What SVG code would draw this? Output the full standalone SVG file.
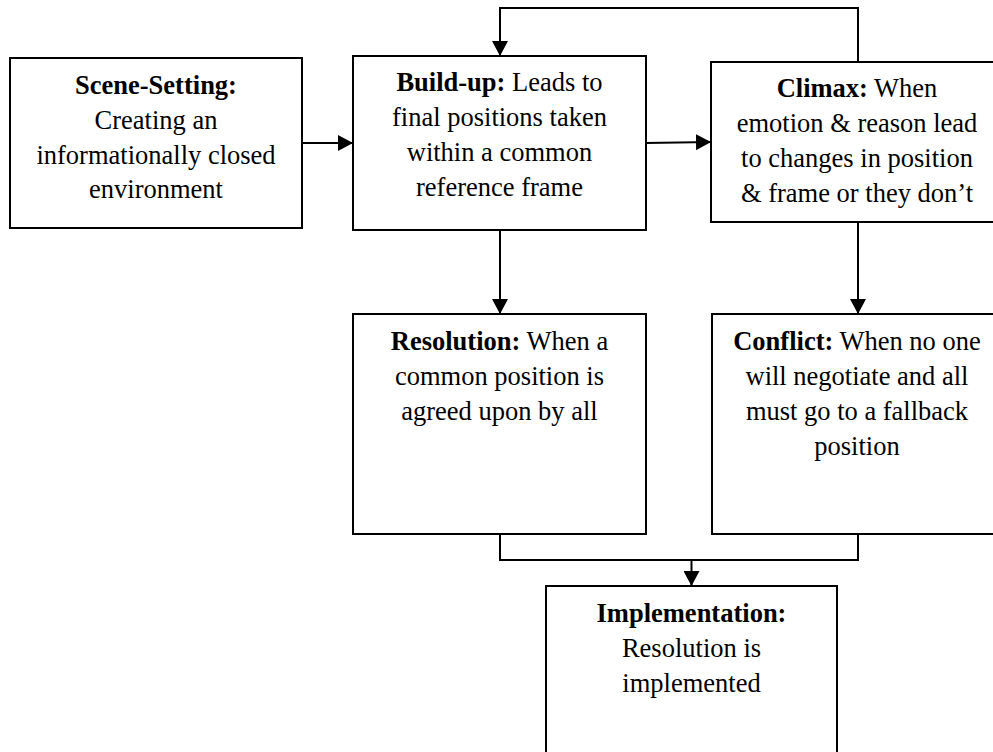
<svg xmlns="http://www.w3.org/2000/svg" width="993" height="752" viewBox="0 0 993 752">
  <style>
    .box { fill: #ffffff; stroke: #000000; stroke-width: 2; }
    .wire { fill: none; stroke: #000000; stroke-width: 2; }
    .arrow { fill: none; stroke: #000000; stroke-width: 2; marker-end: url(#head); }
    text { font-family: "Liberation Serif", "Times New Roman", serif; font-size: 26.5px; fill: #000000; text-anchor: middle; }
    .b { font-weight: bold; }
  </style>
  <defs>
    <marker id="head" markerUnits="userSpaceOnUse" markerWidth="16" markerHeight="16" refX="15" refY="8" orient="auto">
      <path d="M0,0 L15,8 L0,16 Z" fill="#000000"/>
    </marker>
  </defs>

  <rect width="993" height="752" fill="#ffffff"/>

  <!-- connectors -->
  <g id="connectors">
    <line class="arrow" x1="302" y1="143" x2="353" y2="143"/>
    <line class="arrow" x1="646" y1="143" x2="711" y2="142"/>
    <polyline class="arrow" points="858,62 858,8 500,8 500,56"/>
    <line class="arrow" x1="500" y1="230" x2="500" y2="314"/>
    <line class="arrow" x1="858" y1="222" x2="858" y2="314"/>
    <polyline class="wire" points="500,534 500,560 858,560 858,534"/>
    <line class="arrow" x1="691.5" y1="560" x2="691.5" y2="586"/>
  </g>

  <!-- nodes -->
  <g id="scene-setting">
    <rect class="box" x="10" y="58" width="292" height="170"/>
    <text x="156" y="94"><tspan class="b">Scene-Setting:</tspan></text>
    <text x="156" y="128.5">Creating an</text>
    <text x="156" y="163.5">informationally closed</text>
    <text x="156" y="198">environment</text>
  </g>

  <g id="build-up">
    <rect class="box" x="353" y="56" width="293" height="174"/>
    <text x="499.5" y="90.5"><tspan class="b">Build-up:</tspan> Leads to</text>
    <text x="499.5" y="125.5">final positions taken</text>
    <text x="499.5" y="160.5">within a common</text>
    <text x="499.5" y="195.5">reference frame</text>
  </g>

  <g id="climax">
    <rect class="box" x="711" y="62" width="300" height="160"/>
    <text x="857" y="96.5"><tspan class="b">Climax:</tspan> When</text>
    <text x="857" y="131.5">emotion &amp; reason lead</text>
    <text x="857" y="166.5">to changes in position</text>
    <text x="857" y="201.5">&amp; frame or they don’t</text>
  </g>

  <g id="resolution">
    <rect class="box" x="353" y="314" width="293" height="220"/>
    <text x="499.5" y="350"><tspan class="b">Resolution:</tspan> When a</text>
    <text x="499.5" y="385">common position is</text>
    <text x="499.5" y="420">agreed upon by all</text>
  </g>

  <g id="conflict">
    <rect class="box" x="712" y="314" width="300" height="220"/>
    <text x="857" y="350"><tspan class="b">Conflict:</tspan> When no one</text>
    <text x="857" y="385">will negotiate and all</text>
    <text x="857" y="420">must go to a fallback</text>
    <text x="857" y="455">position</text>
  </g>

  <g id="implementation">
    <rect class="box" x="546" y="586" width="291" height="180"/>
    <text x="691.5" y="621.5"><tspan class="b">Implementation:</tspan></text>
    <text x="691.5" y="656.5">Resolution is</text>
    <text x="691.5" y="691.5">implemented</text>
  </g>
</svg>
